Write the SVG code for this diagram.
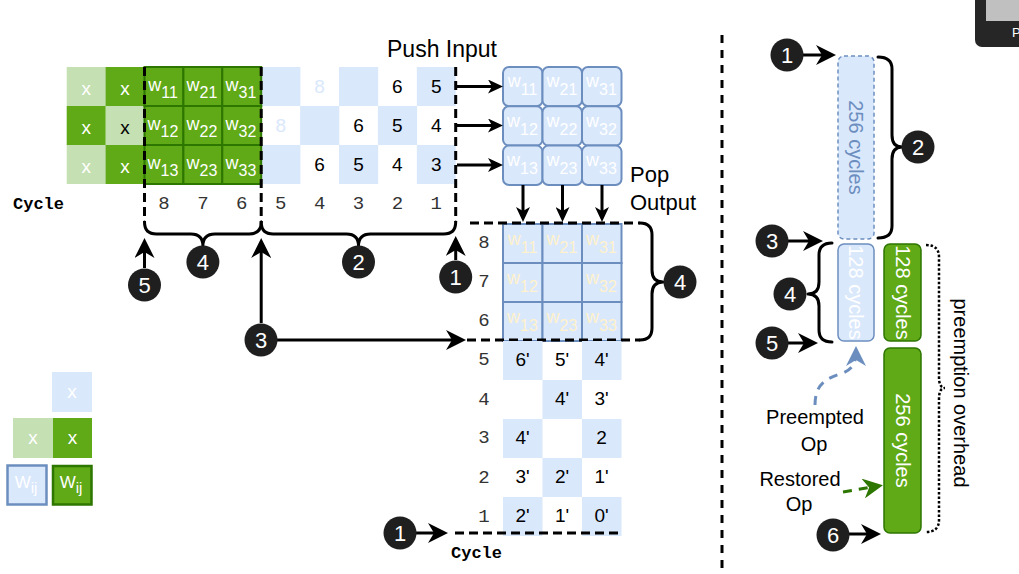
<svg xmlns="http://www.w3.org/2000/svg" width="1019" height="574" viewBox="0 0 1019 574">
<style>
text{font-family:"Liberation Sans",Arial,sans-serif}
.lb{fill:#dae8fc}
.dg{fill:#60a917}
.lg{fill:#c5e0b3}
.wc{fill:#60a917;stroke:#2d7600;stroke-width:2}
.sa{fill:#dae8fc;stroke:#6c8ebf;stroke-width:2}
.w{font-size:18px;text-anchor:middle}
.num{font-size:19px;text-anchor:middle;fill:#000}
.xt{font-size:19px;text-anchor:middle;fill:#fff}
.mono{font-family:"Liberation Mono","Courier New",monospace;font-size:19px;text-anchor:middle;fill:#333}
.cyc{font-family:"Liberation Mono","Courier New",monospace;font-size:17px;font-weight:bold;fill:#000}
.circ{fill:#1f1f1f}
.ct{font-size:22px;text-anchor:middle;fill:#fff}
.dash{fill:none;stroke:#000;stroke-width:3;stroke-dasharray:9 5}
.brace{fill:none;stroke:#000;stroke-width:3;stroke-linejoin:round;stroke-linecap:round}
.arr{fill:none;stroke:#000;stroke-width:3}
.lbl{font-size:22px;fill:#000}
.lbl2{font-size:20px;fill:#000;text-anchor:middle}
.rt{font-size:20px;text-anchor:middle}
</style>
<defs>
<marker id="big" viewBox="0 0 20 20" markerWidth="20" markerHeight="20" refX="15" refY="10" orient="auto" markerUnits="userSpaceOnUse"><path d="M0,0 L20,10 L0,20 L6,10 z" fill="#000"/></marker>
<marker id="bigB" viewBox="0 0 20 20" markerWidth="20" markerHeight="20" refX="15" refY="10" orient="auto" markerUnits="userSpaceOnUse"><path d="M0,0 L20,10 L0,20 L6,10 z" fill="#6c8ebf"/></marker>
<marker id="bigG" viewBox="0 0 20 20" markerWidth="20" markerHeight="20" refX="15" refY="10" orient="auto" markerUnits="userSpaceOnUse"><path d="M0,0 L20,10 L0,20 L6,10 z" fill="#2d7600"/></marker>
<marker id="med" viewBox="0 0 15 14" markerWidth="15" markerHeight="14" refX="11" refY="7" orient="auto" markerUnits="userSpaceOnUse"><path d="M0,0 L15,7 L0,14 L4,7 z" fill="#000"/></marker>
</defs>
<rect width="1019" height="574" fill="#fff"/>

<!-- popup artifact -->
<g id="popup">
<rect x="975" y="-10" width="60" height="57" rx="7" fill="#262626"/>
<rect x="986" y="-5" width="40" height="26" fill="#c0c0c0"/>
<text x="1012" y="37" font-size="13" fill="#fff">P</text>
</g>

<!-- input grid -->
<g id="input-grid">
<rect class="lg" x="66.7" y="67" width="39.2" height="39"/>
<rect class="dg" x="105.6" y="67" width="39.2" height="39"/>
<rect class="dg" x="66.7" y="106" width="39.2" height="39"/>
<rect class="lg" x="105.6" y="106" width="39.2" height="39"/>
<rect class="lg" x="66.7" y="145" width="39.2" height="39"/>
<rect class="dg" x="105.6" y="145" width="39.2" height="39"/>
<text class="xt" x="86.2" y="95">x</text>
<text class="xt" x="125.1" y="95">x</text>
<text class="xt" x="86.2" y="134">x</text>
<text class="xt" x="125.1" y="134" style="fill:#000">x</text>
<text class="xt" x="86.2" y="173">x</text>
<text class="xt" x="125.1" y="173">x</text>

<rect class="lb" x="261.2" y="67" width="39.2" height="39"/>
<rect class="lb" x="339" y="67" width="39.2" height="39"/>
<rect class="lb" x="416.8" y="67" width="38.9" height="39"/>
<rect class="lb" x="300.1" y="106" width="39.2" height="39"/>
<rect class="lb" x="377.9" y="106" width="39.2" height="39"/>
<rect class="lb" x="261.2" y="145" width="39.2" height="39"/>
<rect class="lb" x="339" y="145" width="39.2" height="39"/>
<rect class="lb" x="416.8" y="145" width="38.9" height="39"/>
<text class="num" x="319.6" y="93" style="fill:#dae8fc">8</text>
<text class="num" x="397.4" y="93">6</text>
<text class="num" x="436.3" y="93">5</text>
<text class="num" x="280.7" y="132" style="fill:#dae8fc">8</text>
<text class="num" x="358.5" y="132">6</text>
<text class="num" x="397.4" y="132">5</text>
<text class="num" x="436.3" y="132">4</text>
<text class="num" x="319.6" y="171">6</text>
<text class="num" x="358.5" y="171">5</text>
<text class="num" x="397.4" y="171">4</text>
<text class="num" x="436.3" y="171">3</text>

<g id="weights-green">
<rect class="wc" x="144.5" y="67" width="38.9" height="39"/>
<rect class="wc" x="183.4" y="67" width="38.9" height="39"/>
<rect class="wc" x="222.3" y="67" width="38.9" height="39"/>
<rect class="wc" x="144.5" y="106" width="38.9" height="39"/>
<rect class="wc" x="183.4" y="106" width="38.9" height="39"/>
<rect class="wc" x="222.3" y="106" width="38.9" height="39"/>
<rect class="wc" x="144.5" y="145" width="38.9" height="39"/>
<rect class="wc" x="183.4" y="145" width="38.9" height="39"/>
<rect class="wc" x="222.3" y="145" width="38.9" height="39"/>
<g fill="#fff">
<text class="w" x="163" y="91">w<tspan font-size="16" dy="7">11</tspan></text>
<text class="w" x="202" y="91">w<tspan font-size="16" dy="7">21</tspan></text>
<text class="w" x="241" y="91">w<tspan font-size="16" dy="7">31</tspan></text>
<text class="w" x="163" y="130">w<tspan font-size="16" dy="7">12</tspan></text>
<text class="w" x="202" y="130">w<tspan font-size="16" dy="7">22</tspan></text>
<text class="w" x="241" y="130">w<tspan font-size="16" dy="7">32</tspan></text>
<text class="w" x="163" y="169">w<tspan font-size="16" dy="7">13</tspan></text>
<text class="w" x="202" y="169">w<tspan font-size="16" dy="7">23</tspan></text>
<text class="w" x="241" y="169">w<tspan font-size="16" dy="7">33</tspan></text>
</g>
</g>

<path class="dash" d="M144.5,67 V222 M261.2,67 V222 M455.7,67 V222"/>
<text class="cyc" x="13" y="209">Cycle</text>
<text class="mono" x="164" y="209">8</text>
<text class="mono" x="202.9" y="209">7</text>
<text class="mono" x="241.8" y="209">6</text>
<text class="mono" x="280.7" y="209">5</text>
<text class="mono" x="319.6" y="209">4</text>
<text class="mono" x="358.5" y="209">3</text>
<text class="mono" x="397.4" y="209">2</text>
<text class="mono" x="436.3" y="209">1</text>
<path class="brace" d="M144.5,222 Q144.5,234 156.5,234 L190.9,234 Q202.9,234 202.9,246 Q202.9,234 214.9,234 L249.2,234 Q261.2,234 261.2,222"/>
<path class="brace" d="M261.2,222 Q261.2,234 273.2,234 L346.5,234 Q358.5,234 358.5,246 Q358.5,234 370.5,234 L443.7,234 Q455.7,234 455.7,222"/>
<text class="lbl" x="387" y="57" style="font-size:23px">Push Input</text>
</g>

<!-- systolic array -->
<g id="systolic-array">
<rect class="sa" x="503" y="67" width="39.5" height="39.3" rx="6"/>
<rect class="sa" x="542.5" y="67" width="39.5" height="39.3" rx="6"/>
<rect class="sa" x="582" y="67" width="39.5" height="39.3" rx="6"/>
<rect class="sa" x="503" y="106.3" width="39.5" height="39.3" rx="6"/>
<rect class="sa" x="542.5" y="106.3" width="39.5" height="39.3" rx="6"/>
<rect class="sa" x="582" y="106.3" width="39.5" height="39.3" rx="6"/>
<rect class="sa" x="503" y="145.6" width="39.5" height="39.4" rx="6"/>
<rect class="sa" x="542.5" y="145.6" width="39.5" height="39.4" rx="6"/>
<rect class="sa" x="582" y="145.6" width="39.5" height="39.4" rx="6"/>
<g fill="#fff">
<text class="w" x="522.5" y="87">w<tspan font-size="16" dy="8">11</tspan></text>
<text class="w" x="562" y="87">w<tspan font-size="16" dy="8">21</tspan></text>
<text class="w" x="601.5" y="87">w<tspan font-size="16" dy="8">31</tspan></text>
<text class="w" x="522.5" y="126.5">w<tspan font-size="16" dy="8">12</tspan></text>
<text class="w" x="562" y="126.5">w<tspan font-size="16" dy="8">22</tspan></text>
<text class="w" x="601.5" y="126.5">w<tspan font-size="16" dy="8">32</tspan></text>
<text class="w" x="522.5" y="165.5">w<tspan font-size="16" dy="8">13</tspan></text>
<text class="w" x="562" y="165.5">w<tspan font-size="16" dy="8">23</tspan></text>
<text class="w" x="601.5" y="165.5">w<tspan font-size="16" dy="8">33</tspan></text>
</g>
<text class="lbl" x="630" y="182">Pop</text>
<text class="lbl" x="630" y="210">Output</text>
</g>

<!-- output array -->
<g id="output-array">
<rect class="sa" x="503" y="224" width="39.5" height="39"/>
<rect class="sa" x="542.5" y="224" width="39.5" height="39"/>
<rect class="sa" x="582" y="224" width="39.5" height="39"/>
<rect class="sa" x="503" y="263" width="39.5" height="39"/>
<rect class="sa" x="542.5" y="263" width="39.5" height="39"/>
<rect class="sa" x="582" y="263" width="39.5" height="39"/>
<rect class="sa" x="503" y="302" width="39.5" height="39"/>
<rect class="sa" x="542.5" y="302" width="39.5" height="39"/>
<rect class="sa" x="582" y="302" width="39.5" height="39"/>
<g fill="#fff2cc">
<text class="w" x="522.5" y="245">w<tspan font-size="16" dy="8">11</tspan></text>
<text class="w" x="562" y="245">w<tspan font-size="16" dy="8">21</tspan></text>
<text class="w" x="601.5" y="245">w<tspan font-size="16" dy="8">31</tspan></text>
<text class="w" x="522.5" y="284">w<tspan font-size="16" dy="8">12</tspan></text>
<text class="w" x="601.5" y="284">w<tspan font-size="16" dy="8">32</tspan></text>
<text class="w" x="522.5" y="323">w<tspan font-size="16" dy="8">13</tspan></text>
<text class="w" x="562" y="323">w<tspan font-size="16" dy="8">23</tspan></text>
<text class="w" x="601.5" y="323">w<tspan font-size="16" dy="8">33</tspan></text>
</g>
<text class="mono" x="484" y="248">8</text>
<text class="mono" x="484" y="287">7</text>
<text class="mono" x="484" y="326">6</text>
<path class="dash" d="M470,223 H640 M467,340 H640"/>
<path class="brace" d="M640,223 Q652,223 652,235 L652,270 Q652,282 663,282 Q652,282 652,294 L652,328 Q652,340 640,340"/>
</g>

<!-- output rows -->
<g id="output-rows">
<rect class="lb" x="503" y="341" width="39.5" height="39"/>
<rect class="lb" x="582" y="341" width="39.5" height="39"/>
<rect class="lb" x="542.5" y="380" width="39.5" height="39"/>
<rect class="lb" x="503" y="419" width="39.5" height="39"/>
<rect class="lb" x="582" y="419" width="39.5" height="39"/>
<rect class="lb" x="542.5" y="458" width="39.5" height="39"/>
<rect class="lb" x="503" y="497" width="39.5" height="39"/>
<rect class="lb" x="582" y="497" width="39.5" height="39"/>
<text class="num" x="522.5" y="366">6'</text>
<text class="num" x="562" y="366">5'</text>
<text class="num" x="601.5" y="366">4'</text>
<text class="num" x="562" y="405">4'</text>
<text class="num" x="601.5" y="405">3'</text>
<text class="num" x="522.5" y="444">4'</text>
<text class="num" x="601.5" y="444">2</text>
<text class="num" x="522.5" y="483">3'</text>
<text class="num" x="562" y="483">2'</text>
<text class="num" x="601.5" y="483">1'</text>
<text class="num" x="522.5" y="522">2'</text>
<text class="num" x="562" y="522">1'</text>
<text class="num" x="601.5" y="522">0'</text>
<text class="mono" x="484" y="365">5</text>
<text class="mono" x="484" y="405">4</text>
<text class="mono" x="484" y="443">3</text>
<text class="mono" x="484" y="483">2</text>
<text class="mono" x="484" y="522">1</text>
<path class="dash" d="M455,533 H622"/>
<text class="cyc" x="451" y="558">Cycle</text>
</g>

<!-- legend -->
<g id="legend">
<rect class="lb" x="52" y="372" width="40" height="40"/>
<text class="xt" x="72" y="398">x</text>
<rect class="lg" x="13" y="418" width="40" height="40"/>
<text class="xt" x="33" y="444">x</text>
<rect class="dg" x="53" y="418" width="39" height="40"/>
<text class="xt" x="72.5" y="444">x</text>
<rect x="7.5" y="465.5" width="39" height="39" fill="#dae8fc" stroke="#6c8ebf" stroke-width="2.5"/>
<text x="26" y="488" font-size="17" fill="#fff" text-anchor="middle">W<tspan font-size="15" dy="5">ij</tspan></text>
<rect x="53" y="466" width="38.5" height="38.5" fill="#60a917" stroke="#2d7600" stroke-width="2.5"/>
<text x="71" y="488" font-size="17" fill="#fff" text-anchor="middle">W<tspan font-size="15" dy="5">ij</tspan></text>
</g>

<!-- separator -->
<path d="M722,35 V572" fill="none" stroke="#000" stroke-width="3" stroke-dasharray="8 7"/>

<!-- timeline -->
<g id="timeline">
<g id="op-256-dashed">
<rect x="838" y="56" width="36" height="183" rx="6" fill="#dae8fc" stroke="#6c8ebf" stroke-width="1.5" stroke-dasharray="4 3"/>
<text class="rt" transform="translate(856,147.5) rotate(90)" y="7" fill="#6c8ebf">256 cycles</text>
</g>
<g id="op-128-blue">
<rect x="838" y="244" width="36" height="97" rx="6" fill="#dae8fc" stroke="#6c8ebf" stroke-width="1.5"/>
<text class="rt" transform="translate(856,292.5) rotate(90)" y="7" fill="#fff">128 cycles</text>
</g>
<g id="op-128-green">
<rect x="884" y="244" width="37" height="97" rx="6" fill="#60a917" stroke="#2d7600" stroke-width="1.5"/>
<text class="rt" transform="translate(902.5,292.5) rotate(90)" y="7" fill="#fff">128 cycles</text>
</g>
<g id="op-256-green">
<rect x="884" y="348" width="37" height="185" rx="6" fill="#60a917" stroke="#2d7600" stroke-width="1.5"/>
<text class="rt" transform="translate(902.5,440.5) rotate(90)" y="7" fill="#fff">256 cycles</text>
</g>
<path class="brace" d="M878,57 Q892,57 892,69 L892,135 Q892,147 902,147 Q892,147 892,159 L892,226 Q892,238 878,238"/>
<path class="brace" d="M832,243 Q819,243 819,255 L819,282 Q819,294 808,294 Q819,294 819,306 L819,330 Q819,342 832,342"/>
<path d="M926,245 Q939,245 939,257 L939,377 Q939,388 945,388 Q939,388 939,399 L939,520 Q939,532 926,532" fill="none" stroke="#000" stroke-width="2.5" stroke-dasharray="2.5 2"/>
<text class="rt" transform="translate(961,393) rotate(90)" y="7" fill="#000">preemption overhead</text>
<text class="lbl2" x="815" y="424">Preempted</text>
<text class="lbl2" x="814" y="451">Op</text>
<text class="lbl2" x="800" y="486">Restored</text>
<text class="lbl2" x="799" y="511">Op</text>
</g>

<!-- connectors -->
<g id="connectors">
<path class="arr" marker-end="url(#med)" d="M457,86.5 H499"/>
<path class="arr" marker-end="url(#med)" d="M457,125.5 H499"/>
<path class="arr" marker-end="url(#med)" d="M457,165 H499"/>
<path class="arr" marker-end="url(#med)" d="M523,185 V218"/>
<path class="arr" marker-end="url(#med)" d="M562.5,185 V218"/>
<path class="arr" marker-end="url(#med)" d="M602,185 V218"/>
<path class="arr" marker-end="url(#big)" d="M144.5,268 V243"/>
<path class="arr" marker-end="url(#big)" d="M261.2,323 V243"/>
<path class="arr" marker-end="url(#big)" d="M277,340 H461"/>
<path class="arr" marker-end="url(#big)" d="M455.7,260 V241"/>
<path class="arr" marker-end="url(#big)" d="M416,533 H443"/>
<path class="arr" marker-end="url(#big)" d="M803,55 H831"/>
<path class="arr" marker-end="url(#big)" d="M788,241 H818"/>
<path class="arr" marker-end="url(#big)" d="M788,343 H813"/>
<path class="arr" marker-end="url(#big)" d="M849,534 H876"/>
<path d="M815,405 C815,386 824,379 840,374 C852,370 856,364 856,351" fill="none" stroke="#6c8ebf" stroke-width="3" stroke-dasharray="9 7" marker-end="url(#bigB)"/>
<path d="M843,492 L878,486" fill="none" stroke="#2d7600" stroke-width="3" stroke-dasharray="9 7" marker-end="url(#bigG)"/>
</g>

<!-- badges -->
<g id="badges">
<g id="b1a"><circle class="circ" cx="455.7" cy="277" r="16.5"/><text class="ct" x="455.7" y="285">1</text></g>
<g id="b2a"><circle class="circ" cx="358.5" cy="262" r="16.5"/><text class="ct" x="358.5" y="270">2</text></g>
<g id="b3a"><circle class="circ" cx="261" cy="340" r="16.5"/><text class="ct" x="261" y="348">3</text></g>
<g id="b4a"><circle class="circ" cx="202.9" cy="262" r="16.5"/><text class="ct" x="202.9" y="270">4</text></g>
<g id="b5a"><circle class="circ" cx="144.5" cy="285" r="16.5"/><text class="ct" x="144.5" y="293">5</text></g>
<g id="b4b"><circle class="circ" cx="680" cy="282" r="16.5"/><text class="ct" x="680" y="290">4</text></g>
<g id="b1b"><circle class="circ" cx="400" cy="533" r="16.5"/><text class="ct" x="400" y="541">1</text></g>
<g id="b1c"><circle class="circ" cx="787" cy="55" r="16.5"/><text class="ct" x="787" y="63">1</text></g>
<g id="b2c"><circle class="circ" cx="918" cy="147" r="16.5"/><text class="ct" x="918" y="155">2</text></g>
<g id="b3c"><circle class="circ" cx="772" cy="241" r="16.5"/><text class="ct" x="772" y="249">3</text></g>
<g id="b4c"><circle class="circ" cx="790" cy="294" r="16.5"/><text class="ct" x="790" y="302">4</text></g>
<g id="b5c"><circle class="circ" cx="772" cy="343" r="16.5"/><text class="ct" x="772" y="351">5</text></g>
<g id="b6c"><circle class="circ" cx="833" cy="535" r="16.5"/><text class="ct" x="833" y="543">6</text></g>
</g>
</svg>
